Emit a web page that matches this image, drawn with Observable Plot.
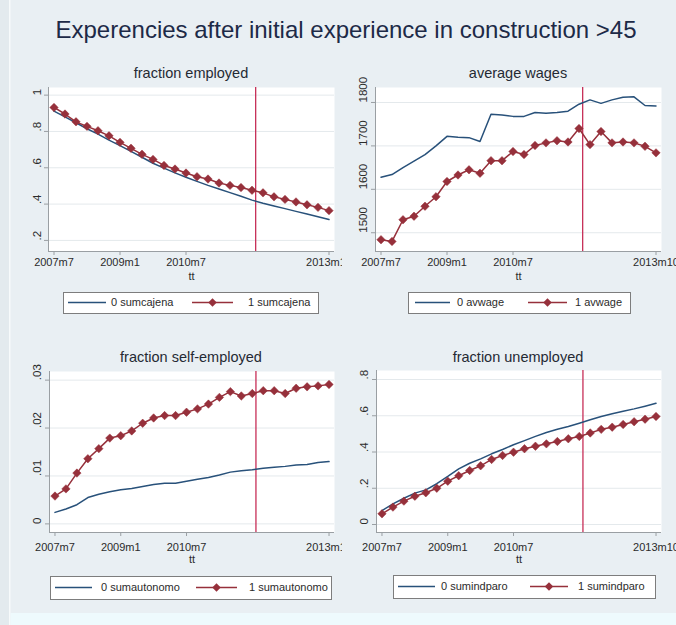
<!DOCTYPE html>
<html>
<head>
<meta charset="utf-8">
<script src="https://cdn.jsdelivr.net/npm/d3@7"></script>
<script src="https://cdn.jsdelivr.net/npm/@observablehq/plot@0.6"></script>
<style>
html, body { margin: 0; padding: 0; background: #e9eff3; }
#root { position: relative; width: 676px; height: 625px; overflow: hidden; background: #e9eff3; font-family: "Liberation Sans", Arial, sans-serif; }
.panel { position: absolute; overflow: hidden; }
#overlay { position: absolute; left: 0; top: 0; }
</style>
</head>
<body>
<div id="root"></div>
<script>
// ---------------- data ----------------
const mainTitle = "Experencies after initial experience in construction >45";
const periods = ["2007m7","2007m10","2008m1","2008m4","2008m7","2008m10","2009m1","2009m4","2009m7","2009m10",
  "2010m1","2010m4","2010m7","2010m10","2011m1","2011m4","2011m7","2011m10","2012m1","2012m4",
  "2012m7","2012m10","2013m1","2013m4","2013m7","2013m10"];
const cutoffPeriod = "2012m2";
const xTickLabels = ["2007m7","2009m1","2010m7","2013m10"];
const xAxisTitle = "tt";

const panelTitles = ["fraction employed","average wages","fraction self-employed","fraction unemployed"];
const seriesNames0 = ["0 sumcajena","0 avwage","0 sumautonomo","0 sumindparo"];
const seriesNames1 = ["1 sumcajena","1 avwage","1 sumautonomo","1 sumindparo"];

// fraction employed
const employed0 = [0.912,0.880,0.848,0.815,0.785,0.752,0.722,0.690,0.658,0.625,0.598,0.572,0.548,0.525,0.503,0.483,0.463,0.443,0.422,0.405,0.390,0.375,0.360,0.345,0.330,0.315];
const employed1 = [0.932,0.896,0.853,0.828,0.804,0.776,0.740,0.707,0.674,0.646,0.613,0.593,0.571,0.551,0.538,0.516,0.503,0.491,0.476,0.462,0.440,0.426,0.412,0.396,0.382,0.364];
// average wages
const wage0 = [1628,1634,1650,1665,1680,1700,1722,1720,1719,1710,1773,1771,1768,1768,1777,1775,1777,1780,1796,1806,1798,1806,1812,1813,1793,1792];
const wage1 = [1484,1480,1530,1538,1561,1583,1618,1633,1645,1637,1666,1666,1687,1680,1701,1707,1712,1709,1740,1703,1733,1707,1709,1707,1699,1684];
// fraction self-employed
const selfEmp0 = [0.0024,0.0031,0.0040,0.0055,0.0062,0.0067,0.0071,0.0074,0.0078,0.0082,0.0085,0.0085,0.0089,0.0093,0.0097,0.0102,0.0108,0.0111,0.0113,0.0116,0.0118,0.0120,0.0123,0.0124,0.0128,0.0130];
const selfEmp1 = [0.0058,0.0073,0.0106,0.0136,0.0157,0.0179,0.0184,0.0194,0.0210,0.0221,0.0226,0.0226,0.0233,0.0240,0.0250,0.0264,0.0276,0.0267,0.0272,0.0278,0.0278,0.0272,0.0283,0.0286,0.0288,0.0291];
// fraction unemployed
const unemp0 = [0.077,0.114,0.145,0.173,0.191,0.225,0.265,0.307,0.338,0.362,0.390,0.414,0.440,0.463,0.486,0.508,0.526,0.541,0.559,0.578,0.596,0.611,0.625,0.638,0.653,0.669];
const unemp1 = [0.059,0.096,0.129,0.156,0.175,0.200,0.239,0.269,0.298,0.324,0.359,0.381,0.399,0.418,0.432,0.445,0.458,0.473,0.486,0.505,0.525,0.537,0.552,0.567,0.581,0.596];

const yTicksEmp = [0.2,0.4,0.6,0.8,1];       const yLabelsEmp = [".2",".4",".6",".8","1"];
const yTicksWage = [1500,1600,1700,1800];    const yLabelsWage = ["1500","1600","1700","1800"];
const yTicksSelf = [0,0.01,0.02,0.03];       const yLabelsSelf = ["0",".01",".02",".03"];
const yTicksUnemp = [0,0.2,0.4,0.6,0.8];     const yLabelsUnemp = ["0",".2",".4",".6",".8"];

// ---------------- helpers & styles ----------------
const tm = s => { const [y, m] = s.split("m").map(Number); return (y - 1960) * 12 + m - 1; };
const BLUE = "#28517a", RED = "#96303b", VLINE = "#c72f58", AXIS = "#9a9fa3", GRID = "#e4e9ec", TXT = "#2b2b2b";
const FONT = "'Liberation Sans', Arial, sans-serif";
const xDomain = [568.5, 646.5];
const xTickMap = new Map(xTickLabels.map(l => [tm(l), l]));

const root = document.getElementById("root");

// background decorations + titles + legends (overlay drawn below plots)
const ov = d3.select(root).append("svg").attr("id", "overlay").attr("width", 676).attr("height", 625);
ov.append("rect").attr("x", 0).attr("y", 0).attr("width", 9).attr("height", 625).attr("fill", "#e3eaee");
ov.append("rect").attr("x", 9).attr("y", 0).attr("width", 1.5).attr("height", 625).attr("fill", "#f7fafb");
ov.append("rect").attr("x", 10.5).attr("y", 613).attr("width", 666).attr("height", 12).attr("fill", "#eefafd");
ov.append("text").attr("x", 346).attr("y", 38).attr("text-anchor", "middle")
  .attr("font-family", FONT).attr("font-size", 24).attr("fill", "#1d2a47").text(mainTitle);

const layout = [
  { left: 0,   top: 56,  w: 342, h: 232, ml: 48, mr: 8,  mt: 31, mb: 37, tickPad: 3, ttDy: 28, ylabDx: -11,
    titleX: 191, titleY: 78, legend: { x0: 63, x1: 318, y0: 292, y1: 313, l1: [68, 106], t1: 111, l2: [192, 233], t2: 248 } },
  { left: 342, top: 56,  w: 334, h: 232, ml: 33, mr: 15, mt: 31, mb: 37, tickPad: 3, ttDy: 28, ylabDx: -12,
    titleX: 518, titleY: 78, legend: { x0: 408, x1: 630, y0: 292, y1: 313, l1: [415, 450], t1: 457, l2: [528, 567], t2: 575 } },
  { left: 0,   top: 340, w: 342, h: 230, ml: 49, mr: 8,  mt: 31, mb: 38, tickPad: 7, ttDy: 30, ylabDx: -12,
    titleX: 191, titleY: 362, legend: { x0: 50, x1: 331, y0: 576, y1: 599, l1: [55, 92], t1: 101, l2: [196, 237], t2: 249 } },
  { left: 342, top: 340, w: 334, h: 230, ml: 34, mr: 15, mt: 30, mb: 38, tickPad: 7, ttDy: 30, ylabDx: -12,
    titleX: 518, titleY: 362, legend: { x0: 393, x1: 655, y0: 575, y1: 598, l1: [398, 435], t1: 441, l2: [530, 568], t2: 578 } }
];

const panels = [
  { s0: employed0, s1: employed1, yTicks: yTicksEmp,   yLabels: yLabelsEmp,   yDomain: [0.139, 1.042] },
  { s0: wage0,     s1: wage1,     yTicks: yTicksWage,  yLabels: yLabelsWage,  yDomain: [1456.8, 1834.5] },
  { s0: selfEmp0,  s1: selfEmp1,  yTicks: yTicksSelf,  yLabels: yLabelsSelf,  yDomain: [-0.0018, 0.0318] },
  { s0: unemp0,    s1: unemp1,    yTicks: yTicksUnemp, yLabels: yLabelsUnemp, yDomain: [-0.0441, 0.8497] }
];

panels.forEach((p, k) => {
  const L = layout[k];
  const data = periods.map((per, i) => ({ t: tm(per), v0: p.s0[i], v1: p.s1[i] }));
  const yt = p.yTicks.map((v, i) => ({ v, label: p.yLabels[i] }));
  const chart = Plot.plot({
    width: L.w, height: L.h,
    marginLeft: L.ml, marginRight: L.mr, marginTop: L.mt, marginBottom: L.mb,
    style: { background: "transparent", fontFamily: FONT, fontSize: "11px", color: TXT, overflow: "hidden" },
    x: { domain: xDomain },
    y: { domain: p.yDomain },
    marks: [
      Plot.frame({ fill: "white", stroke: "none" }),
      Plot.gridY(p.yTicks, { stroke: GRID, strokeOpacity: 1 }),
      Plot.ruleX([xDomain[0]], { stroke: AXIS, strokeWidth: 1 }),
      Plot.ruleY([p.yDomain[0]], { stroke: AXIS, strokeWidth: 1 }),
      Plot.axisY({ ticks: p.yTicks, tickSize: 4, tickFormat: () => "", stroke: AXIS }),
      Plot.text(yt, { y: "v", text: "label", frameAnchor: "left", dx: L.ylabDx, rotate: -90, fill: TXT, fontSize: 11.5 }),
      Plot.axisX({ ticks: [...xTickMap.keys()], tickFormat: d => xTickMap.get(d), tickSize: 4, tickPadding: L.tickPad, stroke: AXIS, fill: TXT, label: null }),
      Plot.text([xAxisTitle], { text: d => d, frameAnchor: "bottom", dy: L.ttDy, fill: TXT, fontSize: 11 }),
      Plot.ruleX([tm(cutoffPeriod)], { stroke: VLINE, strokeWidth: 1.3 }),
      Plot.line(data, { x: "t", y: "v0", stroke: BLUE, strokeWidth: 1.5 }),
      Plot.line(data, { x: "t", y: "v1", stroke: RED, strokeWidth: 1.5 }),
      Plot.dot(data, { x: "t", y: "v1", symbol: "diamond2", r: 3.8, fill: RED, stroke: RED, strokeWidth: 0.5 })
    ]
  });
  const div = document.createElement("div");
  div.className = "panel";
  div.style.left = L.left + "px"; div.style.top = L.top + "px";
  div.style.width = L.w + "px"; div.style.height = L.h + "px";
  div.appendChild(chart);
  root.appendChild(div);

  // panel title
  ov.append("text").attr("x", L.titleX).attr("y", L.titleY).attr("text-anchor", "middle")
    .attr("font-family", FONT).attr("font-size", 14.5).attr("fill", "#252a33").text(panelTitles[k]);

  // legend
  const g = L.legend, cy = (g.y0 + g.y1) / 2;
  ov.append("rect").attr("x", g.x0 + 0.5).attr("y", g.y0 + 0.5).attr("width", g.x1 - g.x0).attr("height", g.y1 - g.y0)
    .attr("fill", "white").attr("stroke", "#7d7d7d").attr("stroke-width", 1);
  ov.append("line").attr("x1", g.l1[0]).attr("x2", g.l1[1]).attr("y1", cy).attr("y2", cy).attr("stroke", BLUE).attr("stroke-width", 1.5);
  ov.append("line").attr("x1", g.l2[0]).attr("x2", g.l2[1]).attr("y1", cy).attr("y2", cy).attr("stroke", RED).attr("stroke-width", 1.5);
  ov.append("path").attr("d", d3.symbol(d3.symbolDiamond2, Math.PI * 3.8 * 3.8)())
    .attr("transform", `translate(${(g.l2[0] + g.l2[1]) / 2},${cy})`).attr("fill", RED);
  ov.append("text").attr("x", g.t1).attr("y", cy).attr("dy", "0.35em").attr("font-family", FONT).attr("font-size", 11).attr("fill", TXT).text(seriesNames0[k]);
  ov.append("text").attr("x", g.t2).attr("y", cy).attr("dy", "0.35em").attr("font-family", FONT).attr("font-size", 11).attr("fill", TXT).text(seriesNames1[k]);
});
</script>
</body>
</html>
